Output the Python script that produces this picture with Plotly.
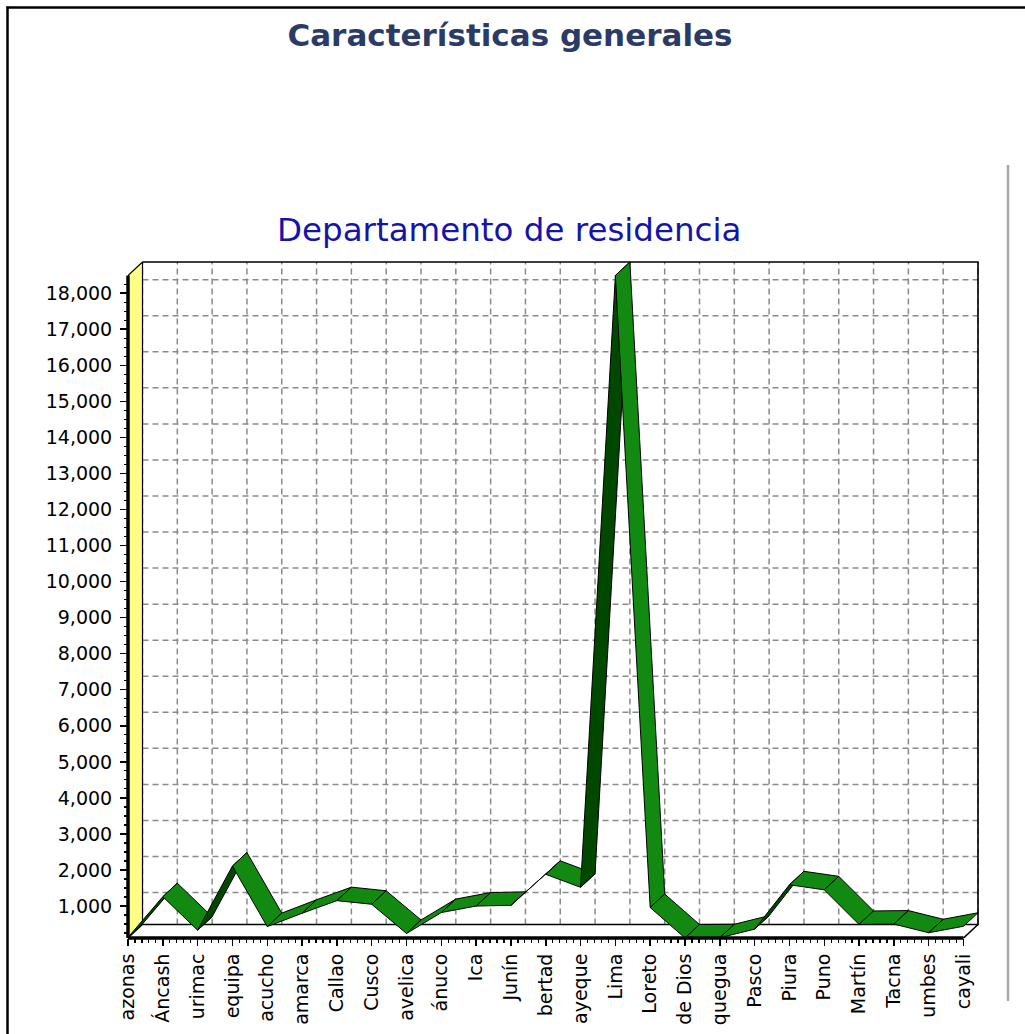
import plotly.graph_objects as go

# ---------------- data ----------------
departments = ["Amazonas", "Áncash", "Apurimac", "Arequipa", "Ayacucho", "Cajamarca",
               "Callao", "Cusco", "Huancavelica", "Huánuco", "Ica", "Junín",
               "La Libertad", "Lambayeque", "Lima", "Loreto", "Madre de Dios",
               "Moquegua", "Pasco", "Piura", "Puno", "San Martín", "Tacna",
               "Tumbes", "Ucayali"]
# category labels as they are visible in the chart (cut at the panel edge)
tick_labels = ["azonas", "Áncash", "urimac", "equipa", "acucho", "amarca",
               "Callao", "Cusco", "avelica", "ánuco", "Ica", "Junín",
               "bertad", "ayeque", "Lima", "Loreto", "de Dios",
               "quegua", "Pasco", "Piura", "Puno", "Martín", "Tacna",
               "umbes", "cayali"]
values = [130, 1260, 330, 2110, 430, 800, 1150, 1050, 240, 820, 1000, 1020,
          1880, 1520, 18490, 960, 114, 120, 360, 1590, 1450, 490, 500, 260, 440]
y_tick_values = list(range(1000, 19000, 1000))
y_tick_labels = [f"{v:,}" for v in y_tick_values]

title_text = "Características generales"
subtitle_text = "Departamento de residencia"

# ---------------- geometry / style ----------------
FIG_W, FIG_H = 1025, 1034
LEFT, BACK_RIGHT, BACK_TOP, FRONT_TOP, BOTTOM, PAD = 128, 978, 262, 275.5, 938, 3
DEPTH_X_PX, DEPTH_Y_PX = 14.5, 13.5

GREEN = "#128A12"
DARK_GREEN = "#004800"
YELLOW = "#FFFF88"
GRID = "#8A8A8A"
FONT = "DejaVu Sans"

n = len(values)
xs = list(range(n))
kx = (BACK_RIGHT - LEFT - DEPTH_X_PX) / (n - 1)
DX = DEPTH_X_PX / kx
y_min, y_max = min(values), max(values)
ky = (BOTTOM - FRONT_TOP) / (y_max - y_min)
DY = DEPTH_Y_PX / ky

m_l, m_r, m_t, m_b = LEFT, FIG_W - (BACK_RIGHT + PAD), BACK_TOP - PAD, FIG_H - BOTTOM
W = FIG_W - m_l - m_r
H = FIG_H - m_t - m_b
x_range = [0, W / kx]
y_range = [y_min, y_min + H / ky]


def px_x(p):
    return (p - m_l) / W


def px_y(p):
    return (FIG_H - m_b - p) / H


fig = go.Figure()

# back wall grid (dashed)
gx, gy = [], []
for i in xs:
    gx += [i + DX, i + DX, None]
    gy += [y_min + DY, y_max + DY, None]
for v in y_tick_values:
    gx += [DX, n - 1 + DX, None]
    gy += [v + DY, v + DY, None]
fig.add_trace(go.Scatter(x=gx, y=gy, mode="lines", hoverinfo="skip",
                         line=dict(color=GRID, width=1.5, dash="6px,4px")))

# back wall border + floor edges
bx = [DX, n - 1 + DX, n - 1 + DX, DX, None, n - 1, n - 1 + DX]
by = [y_max + DY, y_max + DY, y_min + DY, y_min + DY, None, y_min, y_min + DY]
fig.add_trace(go.Scatter(x=bx, y=by, mode="lines", hoverinfo="skip",
                         line=dict(color="black", width=1.6)))

# left (yellow) wall
fig.add_trace(go.Scatter(x=[0, 0, DX, DX, 0],
                         y=[y_min, y_max, y_max + DY, y_min + DY, y_min],
                         mode="lines", fill="toself", fillcolor=YELLOW,
                         hoverinfo="skip", line=dict(color="black", width=1.2)))

# 3D ribbon, one face per segment
for i in range(n - 1):
    v1, v2 = values[i], values[i + 1]
    underside = (v2 - v1) * DX > DY
    fig.add_trace(go.Scatter(
        x=[xs[i], xs[i + 1], xs[i + 1] + DX, xs[i] + DX, xs[i]],
        y=[v1, v2, v2 + DY, v1 + DY, v1],
        mode="lines", fill="toself",
        fillcolor=DARK_GREEN if underside else GREEN,
        line=dict(color="black", width=1), hoverinfo="skip",
        name=departments[i] + " – " + departments[i + 1]))

shapes = [
    # front axes (thick)
    dict(type="line", xref="paper", yref="y", x0=0, x1=0, y0=y_min, y1=y_max,
         line=dict(color="black", width=3.5)),
    dict(type="line", xref="x", yref="paper", x0=0, x1=n - 1, y0=0, y1=0,
         line=dict(color="black", width=3.5)),
    # page frame
    dict(type="line", xref="paper", yref="paper", x0=px_x(7.5), x1=px_x(7.5),
         y0=px_y(6.5), y1=px_y(1100), line=dict(color="black", width=2.5)),
    dict(type="line", xref="paper", yref="paper", x0=px_x(6.5), x1=px_x(1100),
         y0=px_y(7.5), y1=px_y(7.5), line=dict(color="black", width=2.5)),
    # right panel separator
    dict(type="line", xref="paper", yref="paper", x0=px_x(1008), x1=px_x(1008),
         y0=px_y(165), y1=px_y(1001), line=dict(color="#A8A8A8", width=2.5)),
]

minor_x = [i + k / 5 for i in range(n - 1) for k in range(1, 5)]
minor_y = [v for v in range(250, int(y_max), 250) if v % 1000 and v > y_min]

fig.update_layout(
    width=FIG_W, height=FIG_H,
    margin=dict(l=m_l, r=m_r, t=m_t, b=m_b, pad=0),
    paper_bgcolor="white", plot_bgcolor="white",
    showlegend=False,
    title=dict(text=title_text, x=510 / FIG_W, xanchor="center",
               y=1 - 35 / FIG_H, yanchor="middle", yref="container",
               font=dict(family=FONT, size=31, color="#2B3A67", weight="bold")),
    annotations=[dict(text=subtitle_text, xref="paper", yref="paper",
                      x=px_x(508.5), y=px_y(230), xanchor="center", yanchor="middle",
                      showarrow=False,
                      font=dict(family=FONT, size=32.5, color="#1414AA"))],
    shapes=shapes,
    xaxis=dict(range=x_range, tickmode="array", tickvals=xs, ticktext=tick_labels,
               tickangle=-90, ticks="outside", ticklen=7, tickwidth=1.5,
               tickcolor="black", showgrid=False, zeroline=False, showline=False,
               automargin=False, fixedrange=True,
               tickfont=dict(family=FONT, size=19, color="black"),
               minor=dict(tickmode="array", tickvals=minor_x, ticks="outside",
                          ticklen=4, tickwidth=1.2, tickcolor="black", showgrid=False)),
    yaxis=dict(range=y_range, tickmode="array", tickvals=y_tick_values,
               ticktext=y_tick_labels, ticks="outside", ticklen=7, tickwidth=1.5,
               tickcolor="black", showgrid=False, zeroline=False, showline=False,
               automargin=False, fixedrange=True, ticklabelstandoff=4,
               tickfont=dict(family=FONT, size=19, color="black"),
               minor=dict(tickmode="array", tickvals=minor_y, ticks="outside",
                          ticklen=3, tickwidth=1.2, tickcolor="black", showgrid=False)),
)

fig.write_html("out.html",
               config={"displayModeBar": False, "staticPlot": True},
               post_script="document.body.style.margin='0px';"
                           "document.body.style.overflow='hidden';")
